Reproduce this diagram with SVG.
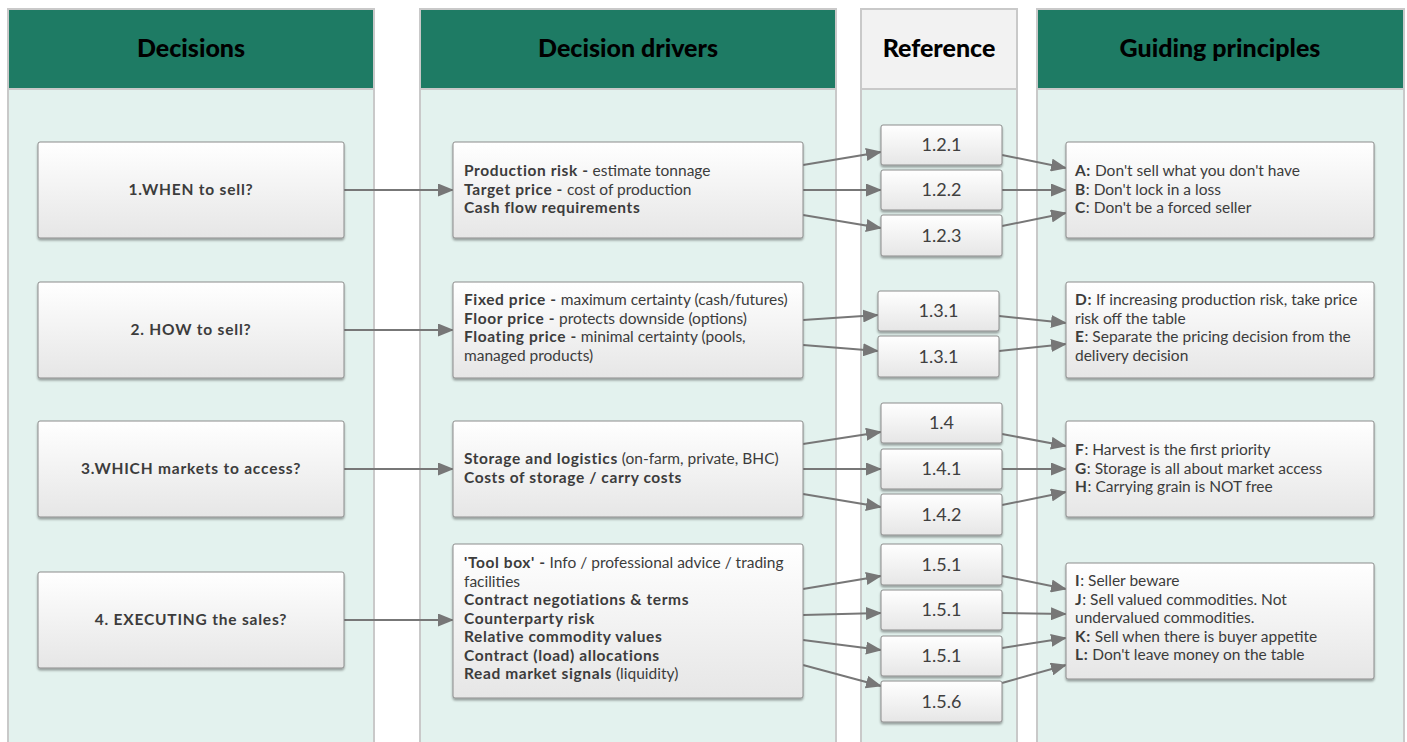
<svg xmlns="http://www.w3.org/2000/svg" width="1407" height="742" viewBox="0 0 1407 742">
<style>
.col{fill:#e3f2ee;stroke:#c9c9c9;stroke-width:2}
.hdr{fill:#1e7b64;stroke:#c9c9c9;stroke-width:2}
.hdrg{fill:#f2f2f2;stroke:#c9c9c9;stroke-width:2}
.ht{font-family:Lato,"Liberation Sans",sans-serif;font-weight:900;font-size:25px;fill:#000;text-anchor:middle}
.box{fill:url(#g);stroke:#8c8c8c;stroke-width:1;filter:url(#sh)}
.t{font-family:Lato,"Liberation Sans",sans-serif;font-size:15.5px;fill:#3c3c3c}
.b{font-weight:bold;letter-spacing:0.6px}
.dl{font-family:Lato,"Liberation Sans",sans-serif;font-size:15.5px;font-weight:bold;letter-spacing:0.8px;fill:#3c3c3c;text-anchor:middle}
.rt{font-family:Lato,"Liberation Sans",sans-serif;font-size:18px;fill:#404040;text-anchor:middle}
.e{stroke:#777;stroke-width:2;fill:none;marker-end:url(#ah)}
</style>
<defs>
<linearGradient id="g" x1="0" y1="0" x2="0" y2="1">
<stop offset="0" stop-color="#ffffff"/>
<stop offset="1" stop-color="#e6e6e6"/>
</linearGradient>
<filter id="sh" x="-10%" y="-10%" width="120%" height="130%">
<feDropShadow dx="0" dy="2" stdDeviation="1.2" flood-color="#000" flood-opacity="0.35"/>
</filter>
<marker id="ah" markerWidth="16" markerHeight="13" refX="15" refY="6.5" orient="auto" markerUnits="userSpaceOnUse">
<path d="M0,0 L16,6.5 L0,13 z" fill="#777"/>
</marker>
</defs>
<rect width="1407" height="742" fill="#ffffff"/>

<g id="col-decisions">
<rect class="col" x="8" y="9" width="366" height="740"/>
<rect class="hdr" x="8" y="9" width="366" height="80"/>
<text class="ht" x="191" y="57">Decisions</text>
</g>
<g id="col-drivers">
<rect class="col" x="420" y="9" width="416" height="740"/>
<rect class="hdr" x="420" y="9" width="416" height="80"/>
<text class="ht" x="628" y="57">Decision drivers</text>
</g>
<g id="col-reference">
<rect class="col" x="861" y="9" width="156" height="740"/>
<rect class="hdrg" x="861" y="9" width="156" height="80"/>
<text class="ht" x="939" y="57">Reference</text>
</g>
<g id="col-principles">
<rect class="col" x="1037" y="9" width="367" height="740"/>
<rect class="hdr" x="1037" y="9" width="367" height="80"/>
<text class="ht" x="1220" y="57">Guiding principles</text>
</g>

<g id="connectors">
<line class="e" x1="344" y1="190" x2="453" y2="190"/>
<line class="e" x1="344" y1="330" x2="453" y2="330"/>
<line class="e" x1="344" y1="469" x2="453" y2="469"/>
<line class="e" x1="344" y1="620" x2="453" y2="620"/>

<line class="e" x1="803" y1="165" x2="881" y2="152"/>
<line class="e" x1="803" y1="190" x2="881" y2="190"/>
<line class="e" x1="803" y1="215" x2="881" y2="228"/>
<line class="e" x1="1002" y1="155" x2="1066" y2="168"/>
<line class="e" x1="1002" y1="190" x2="1066" y2="190"/>
<line class="e" x1="1002" y1="226" x2="1066" y2="213"/>

<line class="e" x1="803" y1="320" x2="878" y2="315"/>
<line class="e" x1="803" y1="345" x2="878" y2="351"/>
<line class="e" x1="999" y1="316" x2="1066" y2="323"/>
<line class="e" x1="999" y1="351" x2="1066" y2="344"/>

<line class="e" x1="803" y1="444" x2="881" y2="432"/>
<line class="e" x1="803" y1="469" x2="881" y2="469"/>
<line class="e" x1="803" y1="494" x2="881" y2="507"/>
<line class="e" x1="1002" y1="434" x2="1066" y2="446"/>
<line class="e" x1="1002" y1="469" x2="1066" y2="469"/>
<line class="e" x1="1002" y1="505" x2="1066" y2="492"/>

<line class="e" x1="803" y1="589" x2="881" y2="576"/>
<line class="e" x1="803" y1="615" x2="881" y2="613"/>
<line class="e" x1="803" y1="640" x2="881" y2="650"/>
<line class="e" x1="803" y1="665" x2="881" y2="686"/>
<line class="e" x1="1002" y1="576" x2="1066" y2="589"/>
<line class="e" x1="1002" y1="613" x2="1066" y2="614"/>
<line class="e" x1="1002" y1="648" x2="1066" y2="638"/>
<line class="e" x1="1002" y1="683" x2="1066" y2="665"/>
</g>

<g id="d1"><rect class="box" x="38" y="142" width="306" height="96" rx="2"/><text class="dl" x="191" y="195">1.WHEN to sell?</text></g>
<g id="d2"><rect class="box" x="38" y="282" width="306" height="96" rx="2"/><text class="dl" x="191" y="335">2. HOW to sell?</text></g>
<g id="d3"><rect class="box" x="38" y="421" width="306" height="96" rx="2"/><text class="dl" x="191" y="474">3.WHICH markets to access?</text></g>
<g id="d4"><rect class="box" x="38" y="572" width="306" height="96" rx="2"/><text class="dl" x="191" y="625">4. EXECUTING the sales?</text></g>

<g id="dr1"><rect class="box" x="453" y="142" width="350" height="96" rx="2"/>
<text class="t" x="464" y="176"><tspan class="b">Production risk -</tspan> estimate tonnage</text>
<text class="t" x="464" y="194.5"><tspan class="b">Target price -</tspan> cost of production</text>
<text class="t" x="464" y="213"><tspan class="b">Cash flow requirements</tspan></text>
</g>
<g id="dr2"><rect class="box" x="453" y="282" width="350" height="96" rx="2"/>
<text class="t" x="464" y="305"><tspan class="b">Fixed price -</tspan> maximum certainty (cash/futures)</text>
<text class="t" x="464" y="323.5"><tspan class="b">Floor price -</tspan> protects downside (options)</text>
<text class="t" x="464" y="342"><tspan class="b">Floating price -</tspan> minimal certainty (pools,</text>
<text class="t" x="464" y="360.5">managed products)</text>
</g>
<g id="dr3"><rect class="box" x="453" y="421" width="350" height="96" rx="2"/>
<text class="t" x="464" y="464"><tspan class="b">Storage and logistics</tspan> (on-farm, private, BHC)</text>
<text class="t" x="464" y="482.5"><tspan class="b">Costs of storage / carry costs</tspan></text>
</g>
<g id="dr4"><rect class="box" x="453" y="544" width="350" height="154" rx="2"/>
<text class="t" x="464" y="568"><tspan class="b">'Tool box' -</tspan> Info / professional advice / trading</text>
<text class="t" x="464" y="586.5">facilities</text>
<text class="t b" x="464" y="605">Contract negotiations &amp; terms</text>
<text class="t b" x="464" y="623.5">Counterparty risk</text>
<text class="t b" x="464" y="642">Relative commodity values</text>
<text class="t b" x="464" y="660.5">Contract (load) allocations</text>
<text class="t" x="464" y="679"><tspan class="b">Read market signals</tspan> (liquidity)</text>
</g>

<g id="r121"><rect class="box" x="881" y="125" width="121" height="40" rx="2"/><text class="rt" x="941.5" y="151">1.2.1</text></g>
<g id="r122"><rect class="box" x="881" y="170" width="121" height="40" rx="2"/><text class="rt" x="941.5" y="196">1.2.2</text></g>
<g id="r123"><rect class="box" x="881" y="215" width="121" height="41" rx="2"/><text class="rt" x="941.5" y="242">1.2.3</text></g>
<g id="r131a"><rect class="box" x="878" y="291" width="121" height="40" rx="2"/><text class="rt" x="938.5" y="317">1.3.1</text></g>
<g id="r131b"><rect class="box" x="878" y="336" width="121" height="41" rx="2"/><text class="rt" x="938.5" y="363">1.3.1</text></g>
<g id="r14"><rect class="box" x="881" y="403" width="121" height="40" rx="2"/><text class="rt" x="941.5" y="429">1.4</text></g>
<g id="r141"><rect class="box" x="881" y="449" width="121" height="40" rx="2"/><text class="rt" x="941.5" y="475">1.4.1</text></g>
<g id="r142"><rect class="box" x="881" y="494" width="121" height="41" rx="2"/><text class="rt" x="941.5" y="521">1.4.2</text></g>
<g id="r151a"><rect class="box" x="881" y="544" width="121" height="41" rx="2"/><text class="rt" x="941.5" y="571">1.5.1</text></g>
<g id="r151b"><rect class="box" x="881" y="590" width="121" height="40" rx="2"/><text class="rt" x="941.5" y="616">1.5.1</text></g>
<g id="r151c"><rect class="box" x="881" y="636" width="121" height="40" rx="2"/><text class="rt" x="941.5" y="662">1.5.1</text></g>
<g id="r156"><rect class="box" x="881" y="681" width="121" height="41" rx="2"/><text class="rt" x="941.5" y="708">1.5.6</text></g>

<g id="p1"><rect class="box" x="1066" y="142" width="308" height="96" rx="2"/>
<text class="t" x="1075" y="176"><tspan class="b">A:</tspan> Don't sell what you don't have</text>
<text class="t" x="1075" y="194.5"><tspan class="b">B</tspan>: Don't lock in a loss</text>
<text class="t" x="1075" y="213"><tspan class="b">C</tspan>: Don't be a forced seller</text>
</g>
<g id="p2"><rect class="box" x="1066" y="282" width="308" height="96" rx="2"/>
<text class="t" x="1075" y="305"><tspan class="b">D:</tspan> If increasing production risk, take price</text>
<text class="t" x="1075" y="323.5">risk off the table</text>
<text class="t" x="1075" y="342"><tspan class="b">E</tspan>: Separate the pricing decision from the</text>
<text class="t" x="1075" y="360.5">delivery decision</text>
</g>
<g id="p3"><rect class="box" x="1066" y="421" width="308" height="96" rx="2"/>
<text class="t" x="1075" y="455"><tspan class="b">F</tspan>: Harvest is the first priority</text>
<text class="t" x="1075" y="473.5"><tspan class="b">G</tspan>: Storage is all about market access</text>
<text class="t" x="1075" y="492"><tspan class="b">H</tspan>: Carrying grain is NOT free</text>
</g>
<g id="p4"><rect class="box" x="1066" y="563" width="308" height="116" rx="2"/>
<text class="t" x="1075" y="586"><tspan class="b">I</tspan>: Seller beware</text>
<text class="t" x="1075" y="604.5"><tspan class="b">J</tspan>: Sell valued commodities. Not</text>
<text class="t" x="1075" y="623">undervalued commodities.</text>
<text class="t" x="1075" y="641.5"><tspan class="b">K:</tspan> Sell when there is buyer appetite</text>
<text class="t" x="1075" y="660"><tspan class="b">L:</tspan> Don't leave money on the table</text>
</g>
</svg>
